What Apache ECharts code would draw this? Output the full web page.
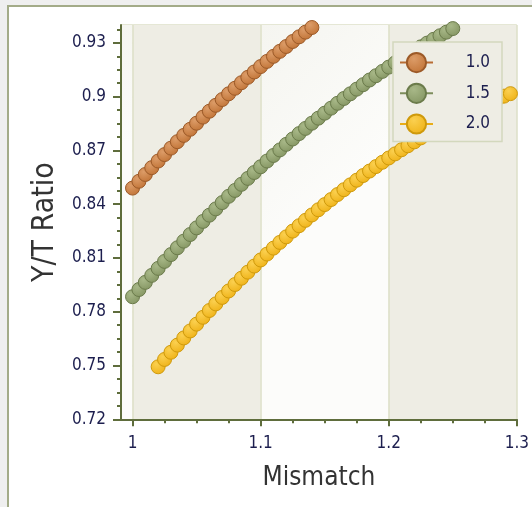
<!DOCTYPE html>
<html>
<head>
<meta charset="utf-8">
<script src="https://cdn.jsdelivr.net/npm/echarts@6/dist/echarts.min.js"></script>
<style>
html,body{margin:0;padding:0;background:#efefef;overflow:hidden;width:532px;height:507px;}
#panel{position:absolute;left:7px;top:5px;width:620px;height:620px;background:#ffffff;border-left:2px solid #a3ab88;border-top:2px solid #a3ab88;}
#chart{position:absolute;left:0;top:0;width:532px;height:507px;}
</style>
</head>
<body>
<div id="panel"></div>
<div id="chart"></div>
<script>
// ---- data ----
const seriesNames = ['1.0', '1.5', '2.0'];

const mismatch10 = [1.000,1.005,1.010,1.015,1.020,1.025,1.030,1.035,1.040,1.045,1.050,1.055,1.060,1.065,1.070,1.075,1.080,1.085,1.090,1.095,1.100,1.105,1.110,1.115,1.120,1.125,1.130,1.135,1.140];
const ratio10 = [0.8490,0.8528,0.8566,0.8604,0.8641,0.8677,0.8713,0.8749,0.8784,0.8818,0.8852,0.8886,0.8919,0.8952,0.8984,0.9016,0.9047,0.9078,0.9108,0.9138,0.9168,0.9197,0.9225,0.9253,0.9280,0.9308,0.9334,0.9360,0.9386];

const mismatch15 = [1.000,1.005,1.010,1.015,1.020,1.025,1.030,1.035,1.040,1.045,1.050,1.055,1.060,1.065,1.070,1.075,1.080,1.085,1.090,1.095,1.100,1.105,1.110,1.115,1.120,1.125,1.130,1.135,1.140,1.145,1.150,1.155,1.160,1.165,1.170,1.175,1.180,1.185,1.190,1.195,1.200,1.205,1.210,1.215,1.220,1.225,1.230,1.235,1.240,1.245,1.250];
const ratio15 = [0.7884,0.7924,0.7964,0.8003,0.8042,0.8081,0.8119,0.8157,0.8194,0.8231,0.8268,0.8304,0.8339,0.8374,0.8409,0.8444,0.8477,0.8511,0.8544,0.8577,0.8609,0.8641,0.8672,0.8703,0.8734,0.8764,0.8794,0.8823,0.8852,0.8880,0.8908,0.8936,0.8963,0.8990,0.9016,0.9042,0.9067,0.9093,0.9117,0.9141,0.9165,0.9189,0.9212,0.9234,0.9256,0.9278,0.9299,0.9320,0.9340,0.9360,0.9380];

const mismatch20 = [1.020,1.025,1.030,1.035,1.040,1.045,1.050,1.055,1.060,1.065,1.070,1.075,1.080,1.085,1.090,1.095,1.100,1.105,1.110,1.115,1.120,1.125,1.130,1.135,1.140,1.145,1.150,1.155,1.160,1.165,1.170,1.175,1.180,1.185,1.190,1.195,1.200,1.205,1.210,1.215,1.220,1.225,1.230,1.235,1.240,1.245,1.250,1.255,1.260,1.265,1.270,1.275,1.280,1.285,1.290,1.295];
const ratio20 = [0.7493,0.7534,0.7574,0.7614,0.7654,0.7693,0.7731,0.7769,0.7807,0.7844,0.7880,0.7916,0.7952,0.7987,0.8021,0.8055,0.8089,0.8122,0.8155,0.8187,0.8218,0.8250,0.8280,0.8310,0.8340,0.8369,0.8398,0.8426,0.8454,0.8481,0.8508,0.8534,0.8560,0.8585,0.8610,0.8634,0.8658,0.8681,0.8704,0.8726,0.8748,0.8770,0.8790,0.8811,0.8831,0.8850,0.8869,0.8887,0.8905,0.8923,0.8940,0.8956,0.8972,0.8988,0.9003,0.9017];

const xMajorTicks = [1, 1.1, 1.2, 1.3];
const xMinorTicks = [1.025,1.05,1.075,1.125,1.15,1.175,1.225,1.25,1.275];
const yMajorTicks = [0.72,0.75,0.78,0.81,0.84,0.87,0.90,0.93];
const yMinorTicks = [0.7275,0.735,0.7425,0.7575,0.765,0.7725,0.7875,0.795,0.8025,0.8175,0.825,0.8325,0.8475,0.855,0.8625,0.8775,0.885,0.8925,0.9075,0.915,0.9225,0.9375];

// ---- styles ----
const FONT = '"DejaVu Sans Condensed", "DejaVu Sans", sans-serif';
const AXIS_COLOR = '#5f6d3c';
const LABEL_COLOR = '#1c1e4e';
const X_MIN = 0.991, X_MAX = 1.3, Y_MIN = 0.72, Y_MAX = 0.94;

function radial(light, base) {
  return {type: 'radial', x: 0.38, y: 0.32, r: 0.7,
    colorStops: [{offset: 0, color: light}, {offset: 1, color: base}]};
}
function zip(xs, ys) { return xs.map((x, i) => [x, ys[i]]); }

const palette = [
  {light: '#dc9c68', base: '#c27538', border: '#9c5a28', line: '#b86d34'},
  {light: '#a8b888', base: '#869764', border: '#6b7b4b', line: '#7d8d5c'},
  {light: '#fbd050', base: '#efb319', border: '#cf9a0c', line: '#e8ad18'}
];
const xs = [mismatch10, mismatch15, mismatch20];
const ys = [ratio10, ratio15, ratio20];

const series = seriesNames.map((name, i) => ({
  name: name,
  type: 'line',
  xAxisIndex: 0, yAxisIndex: 0,
  data: zip(xs[i], ys[i]),
  symbol: 'circle',
  symbolSize: 14,
  showAllSymbol: true,
  clip: true,
  lineStyle: {color: palette[i].line, width: 1.5},
  itemStyle: {color: radial(palette[i].light, palette[i].base), borderColor: palette[i].border, borderWidth: 1},
  emphasis: {disabled: true}
}));

const hiddenParts = {axisLine: {show: false}, splitLine: {show: false}, splitArea: {show: false}};

const option = {
  animation: false,
  backgroundColor: 'transparent',
  grid: {left: 121, right: 11.5, top: 25, bottom: 87.7},
  legend: {
    orient: 'vertical', left: 393, top: 42,
    itemWidth: 33, itemHeight: 24, itemGap: 9.5,
    padding: [10, 12, 7, 6],
    backgroundColor: '#eeede4', borderColor: '#d3d8bd', borderWidth: 1.5,
    data: seriesNames,
    formatter: n => '{t|' + n + '}',
    textStyle: {rich: {t: {width: 52, align: 'right', fontSize: 17, fontFamily: FONT, color: LABEL_COLOR}}}
  },
  xAxis: [
    {
      type: 'value', min: X_MIN, max: X_MAX, splitNumber: 3, position: 'bottom',
      axisLine: {show: true, onZero: false, lineStyle: {color: AXIS_COLOR, width: 2}},
      axisTick: {show: false}, axisLabel: {show: false},
      splitLine: {show: true, lineStyle: {color: '#dcdfc7', width: 1.5}},
      splitArea: {show: true, areaStyle: {color: [
        {type: 'linear', x: 0, y: 0, x2: 1, y2: 0.3, colorStops: [{offset: 0, color: '#f5f5f0'}, {offset: 1, color: '#fcfcfa'}]},
        '#eeede4']}},
      name: 'Mismatch', nameLocation: 'middle', nameGap: 46,
      nameTextStyle: {fontSize: 26, fontFamily: FONT, color: '#333333'}
    },
    Object.assign({
      type: 'value', min: X_MIN, max: X_MAX, position: 'bottom',
      axisTick: {show: true, customValues: xMajorTicks, length: 7, lineStyle: {color: AXIS_COLOR, width: 2}},
      axisLabel: {show: true, customValues: xMajorTicks, margin: 16, fontSize: 17, fontFamily: FONT, color: LABEL_COLOR}
    }, hiddenParts),
    Object.assign({
      type: 'value', min: X_MIN, max: X_MAX, position: 'bottom',
      axisTick: {show: true, customValues: xMinorTicks, length: 4, lineStyle: {color: AXIS_COLOR, width: 2}},
      axisLabel: {show: false}
    }, hiddenParts)
  ],
  yAxis: [
    {
      type: 'value', min: Y_MIN, max: Y_MAX, interval: 0.03, position: 'left',
      axisLine: {show: true, onZero: false, lineStyle: {color: AXIS_COLOR, width: 2}},
      axisTick: {show: false},
      axisLabel: {show: true, showMaxLabel: false, margin: 15, fontSize: 17, fontFamily: FONT, color: LABEL_COLOR},
      splitLine: {show: true, lineStyle: {color: '#dcdfc7', width: 1.5}},
      name: 'Y/T Ratio', nameLocation: 'middle', nameGap: 61,
      nameTextStyle: {fontSize: 30, fontFamily: FONT, color: '#333333'}
    },
    Object.assign({
      type: 'value', min: Y_MIN, max: Y_MAX, position: 'left',
      axisTick: {show: true, customValues: yMajorTicks, length: 8, lineStyle: {color: AXIS_COLOR, width: 2}},
      axisLabel: {show: false}
    }, hiddenParts),
    Object.assign({
      type: 'value', min: Y_MIN, max: Y_MAX, position: 'left',
      axisTick: {show: true, customValues: yMinorTicks, length: 4, lineStyle: {color: AXIS_COLOR, width: 2}},
      axisLabel: {show: false}
    }, hiddenParts)
  ],
  series: series
};

const chart = echarts.init(document.getElementById('chart'), null, {renderer: 'canvas'});
chart.setOption(option);
</script>
</body>
</html>
